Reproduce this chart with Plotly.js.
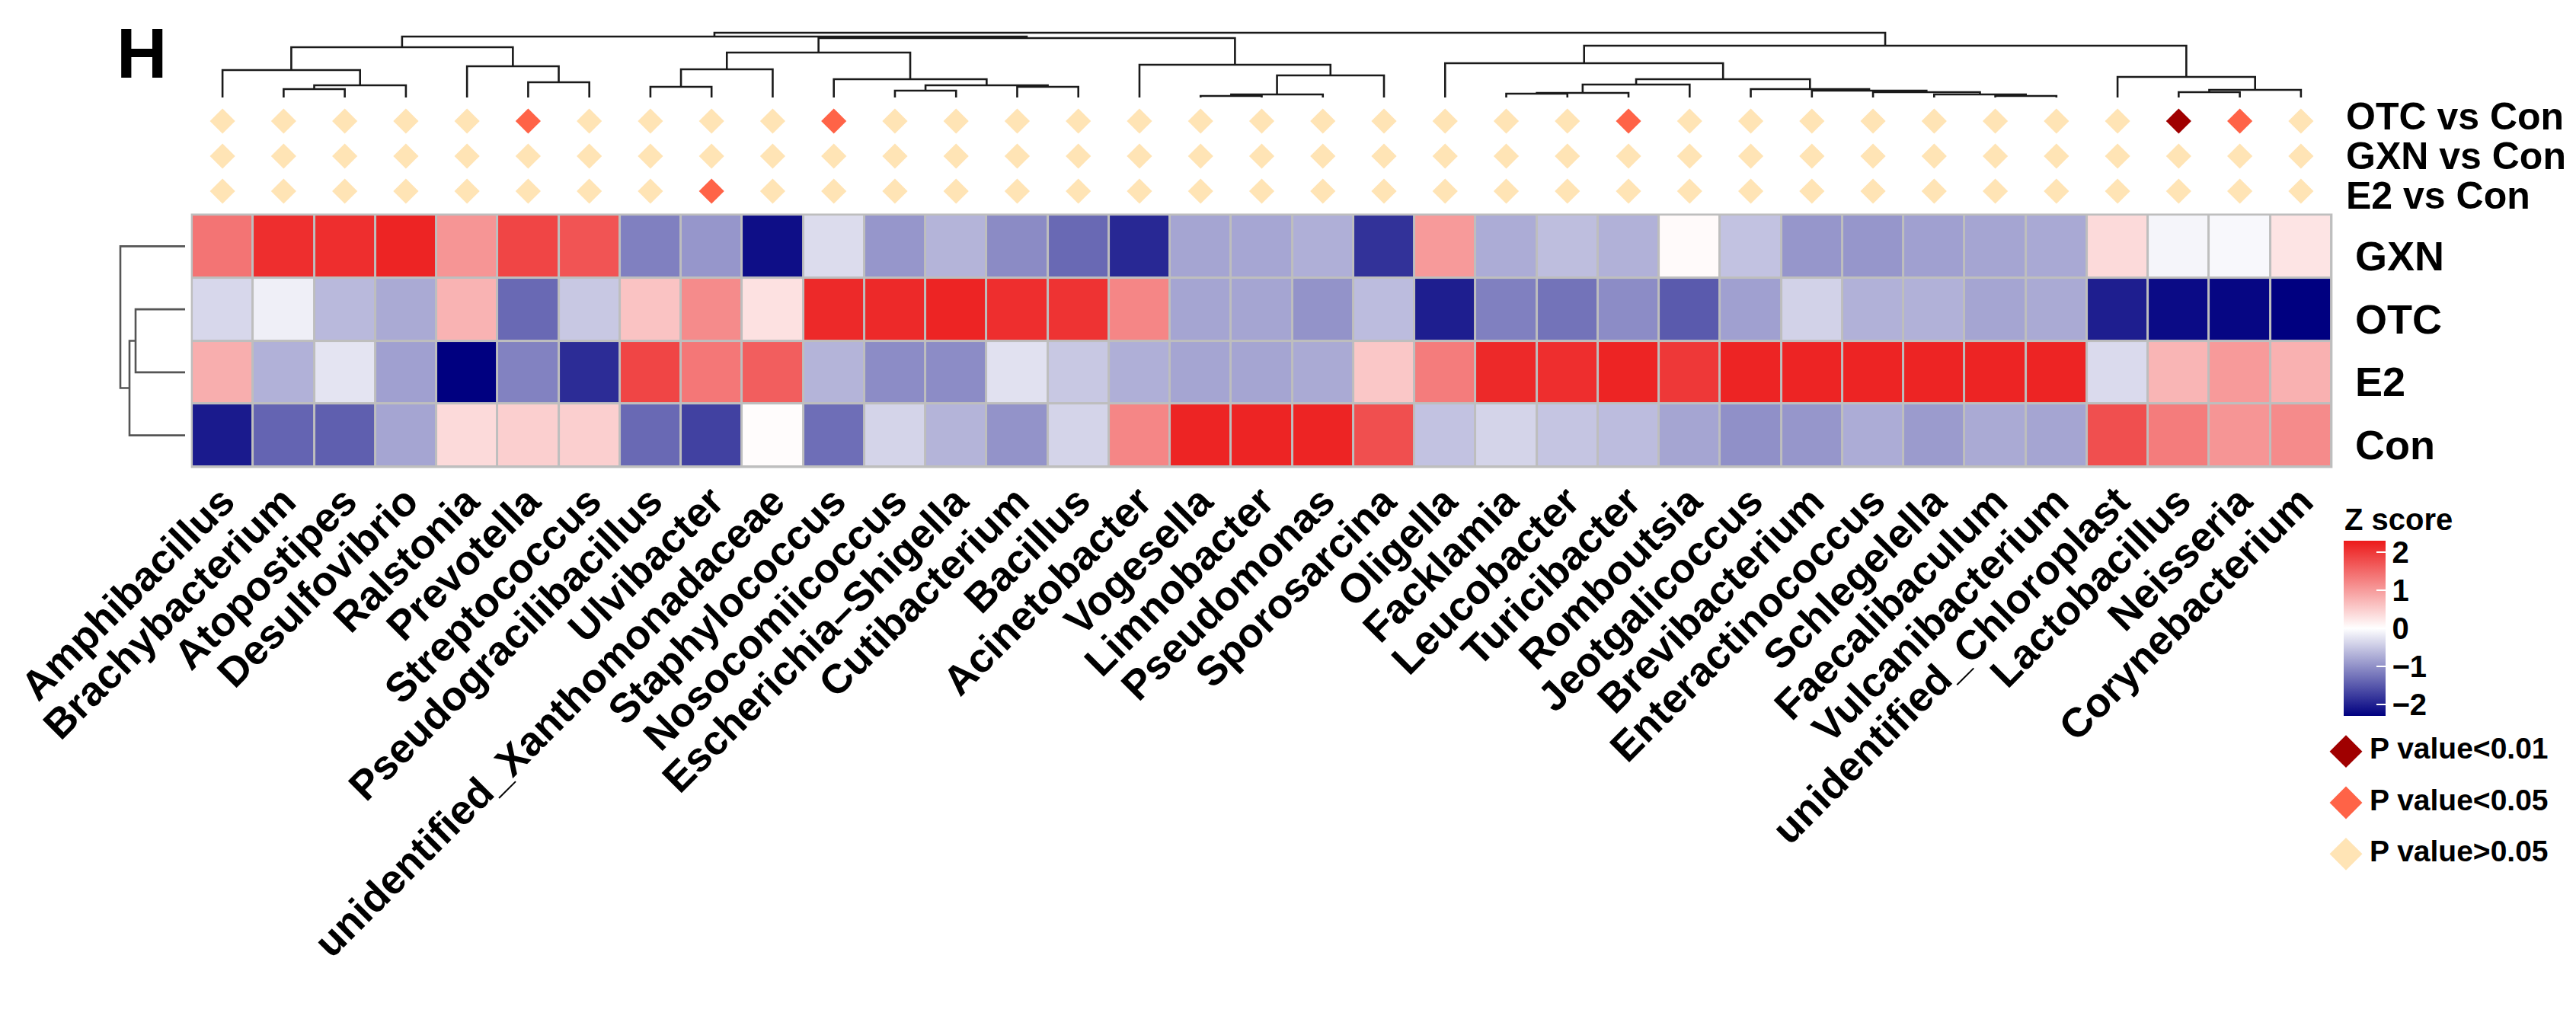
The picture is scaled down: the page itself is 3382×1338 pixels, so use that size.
<!DOCTYPE html>
<html><head><meta charset="utf-8">
<script src="https://cdn.plot.ly/plotly-3.0.1.min.js"></script>
<style>html,body{margin:0;padding:0;background:#fff;}#chart{width:3382px;height:1338px;}</style>
</head><body><div id="chart"></div>
<script>
// ---------------- data ----------------
const taxa = ['Amphibacillus','Brachybacterium','Atopostipes','Desulfovibrio','Ralstonia','Prevotella',
  'Streptococcus','Pseudogracilibacillus','Ulvibacter','unidentified_Xanthomonadaceae','Staphylococcus',
  'Nosocomiicoccus','Escherichia\u2013Shigella','Cutibacterium','Bacillus','Acinetobacter','Vogesella',
  'Limnobacter','Pseudomonas','Sporosarcina','Oligella','Facklamia','Leucobacter','Turicibacter',
  'Romboutsia','Jeotgalicoccus','Brevibacterium','Enteractinococcus','Schlegelella','Faecalibaculum',
  'Vulcanibacterium','unidentified_Chloroplast','Lactobacillus','Neisseria','Corynebacterium'];
const groups = ['GXN','OTC','E2','Con'];
const zGXN = [1.4,2.1,2.1,2.2,1.06,1.87,1.72,-1.15,-0.95,-2.17,-0.32,-0.95,-0.68,-1.05,-1.35,-1.94,-0.81,-0.8,-0.72,-1.85,1.01,-0.75,-0.59,-0.7,0.05,-0.55,-0.95,-0.95,-0.86,-0.81,-0.78,0.37,-0.09,-0.06,0.27];
const zOTC = [-0.36,-0.14,-0.63,-0.77,0.76,-1.35,-0.5,0.6,1.17,0.3,2.15,2.15,2.2,2.1,2.05,1.22,-0.81,-0.81,-0.97,-0.6,-2.03,-1.15,-1.26,-1.04,-1.49,-0.86,-0.41,-0.7,-0.7,-0.81,-0.77,-2.03,-2.2,-2.25,-2.3];
const zE2  = [0.81,-0.7,-0.24,-0.86,-2.3,-1.13,-1.9,1.87,1.37,1.62,-0.68,-1.04,-1.04,-0.27,-0.5,-0.72,-0.81,-0.81,-0.77,0.56,1.32,2.15,2.1,2.2,2.0,2.2,2.2,2.2,2.2,2.2,2.2,-0.33,0.74,1.01,0.78];
const zCon = [-2.07,-1.4,-1.44,-0.81,0.37,0.48,0.48,-1.35,-1.71,0.03,-1.31,-0.39,-0.68,-0.97,-0.39,1.22,2.2,2.2,2.2,1.77,-0.55,-0.39,-0.52,-0.6,-0.81,-1.0,-0.95,-0.75,-0.9,-0.77,-0.81,1.77,1.32,1.06,1.17];
const comparisons = ['OTC vs Con','GXN vs Con','E2 vs Con'];
// p-value class per taxon: 0 = P>0.05, 1 = P<0.05, 2 = P<0.01
const pOTC = [0,0,0,0,0,1,0,0,0,0,1,0,0,0,0,0,0,0,0,0,0,0,0,1,0,0,0,0,0,0,0,0,2,1,0];
const pGXN = [0,0,0,0,0,0,0,0,0,0,0,0,0,0,0,0,0,0,0,0,0,0,0,0,0,0,0,0,0,0,0,0,0,0,0];
const pE2  = [0,0,0,0,0,0,0,0,1,0,0,0,0,0,0,0,0,0,0,0,0,0,0,0,0,0,0,0,0,0,0,0,0,0,0];
const pLabels = ['P value&gt;0.05','P value&lt;0.05','P value&lt;0.01'];
// column dendrogram merges [childA, childB, height]; leaves 0..34, new nodes 35..
const colMerges = [[1,2,11],[35,3,16],[0,36,36],[5,6,20],[4,38,41],[37,39,66],[7,8,14],[41,9,37],
  [11,12,9],[13,14,14],[43,44,16],[10,45,24],[42,46,59],[16,17,2],[48,18,4],[49,19,29],[15,50,43],
  [47,51,78],[40,52,80],[21,22,5],[54,23,6],[55,24,17],[29,30,2],[28,57,4],[27,58,7],[26,59,9],
  [25,60,11],[56,61,24],[20,62,45],[32,33,7],[64,34,10],[31,65,27],[63,66,68],[53,67,85]];
// row dendrogram merges; leaves 0..3 (GXN, OTC, E2, Con)
const rowMerges = [[1,2,65],[4,3,73],[0,5,85]];
const zTickVals = [-2,-1,0,1,2];
const zTickText = ['\u22122','\u22121','0','1','2'];

// ---------------- helpers ----------------
const W = 3382, H = 1338;
const fx = p => p / W, fy = p => 1 - p / H;
const FONT = 'Liberation Sans, Arial, Helvetica, sans-serif';
const pColors = ['#FFE4B5', '#FF6347', '#A00000'];
const ZMIN = -2.3, ZMAX = 2.3;

function dendro(merges, n) {
  const pos = [], hgt = [];
  for (let i = 0; i < n; i++) { pos.push(i); hgt.push(0); }
  const a = [], b = [];
  merges.forEach(([c1, c2, h]) => {
    a.push(pos[c1], pos[c1], pos[c2], pos[c2], null);
    b.push(hgt[c1], h, h, hgt[c2], null);
    pos.push((pos[c1] + pos[c2]) / 2); hgt.push(h);
  });
  return {a, b};
}

const idx = taxa.map((_, i) => i);
const e = 0.02;
// heatmap geometry (pixels)
const hmL = 252, hmR = 3061, hmT = 282, hmB = 613;
const cu = (hmR - hmL) / taxa.length, ru = (hmB - hmT) / groups.length;
// colour bar geometry (pixels)
const cbL = 3077, cbW = 55, cbC = 825, cbLen = 230;

const traces = [];
traces.push({
  type: 'heatmap', x: idx, y: groups.map((_, i) => i), z: [zGXN, zOTC, zE2, zCon],
  xaxis: 'x', yaxis: 'y', zmin: ZMIN, zmax: ZMAX, xgap: 3, ygap: 3,
  colorscale: [[0, '#000080'], [0.5, '#FFFFFF'], [1, '#EC1A1A']],
  hoverinfo: 'skip',
  colorbar: {
    x: fx(cbL), xanchor: 'left', xpad: 0, y: fy(cbC), yanchor: 'middle', ypad: 0,
    len: cbLen, lenmode: 'pixels', thickness: cbW, thicknessmode: 'pixels', outlinewidth: 0,
    tickvals: zTickVals, ticktext: zTickText, ticks: 'inside', ticklen: 12, tickwidth: 2,
    tickcolor: '#FFFFFF', tickfont: {family: FONT, size: 40, color: '#000', weight: 'bold'}
  }
});

// significance diamonds
const pRows = [pOTC, pGXN, pE2];
const dx = [], dy = [], dc = [];
pRows.forEach((row, r) => row.forEach((v, i) => { dx.push(i); dy.push(r); dc.push(pColors[v]); }));
traces.push({type: 'scatter', mode: 'markers', x: dx, y: dy, xaxis: 'x', yaxis: 'y2',
  marker: {symbol: 'diamond', size: 25.5, color: dc, line: {width: 0}}, hoverinfo: 'skip', cliponaxis: false});

// column dendrogram
const cd = dendro(colMerges, taxa.length);
traces.push({type: 'scatter', mode: 'lines', x: cd.a, y: cd.b, xaxis: 'x', yaxis: 'y3',
  line: {color: '#1a1a1a', width: 2.6}, hoverinfo: 'skip'});
// row dendrogram
const rd = dendro(rowMerges, groups.length);
traces.push({type: 'scatter', mode: 'lines', x: rd.b, y: rd.a, xaxis: 'x4', yaxis: 'y',
  line: {color: '#555555', width: 2.6}, hoverinfo: 'skip'});

// p-value legend
const legOrder = [2, 1, 0];
traces.push({type: 'scatter', mode: 'markers', x: legOrder.map(() => 20), y: legOrder.map((_, i) => i),
  xaxis: 'x5', yaxis: 'y5', marker: {symbol: 'diamond', size: 33, color: legOrder.map(k => pColors[k])},
  hoverinfo: 'skip', cliponaxis: false});
traces.push({type: 'scatter', mode: 'text', x: legOrder.map(() => 51), y: legOrder.map((_, i) => i),
  text: legOrder.map(k => pLabels[k]), textposition: 'middle right',
  textfont: {family: FONT, size: 39, color: '#000', weight: 'bold'},
  xaxis: 'x5', yaxis: 'y5', hoverinfo: 'skip', cliponaxis: false});

const hid = {visible: false, showgrid: false, zeroline: false, fixedrange: true};
const annotations = [];
annotations.push({text: 'H', xref: 'paper', yref: 'paper', x: fx(186), y: fy(70), xanchor: 'center', yanchor: 'middle',
  showarrow: false, font: {family: FONT, size: 92, color: '#000', weight: 'bold'}});
[153, 205, 257].forEach((py, i) => annotations.push({text: comparisons[i], xref: 'paper', yref: 'paper',
  x: fx(3078), y: fy(py), xanchor: 'left', yanchor: 'middle', showarrow: false,
  font: {family: FONT, size: 50, color: '#000', weight: 'bold'}}));
groups.forEach((g, i) => annotations.push({text: g, xref: 'paper', yref: 'y', x: fx(3090), y: i, yshift: -12.5,
  xanchor: 'left', yanchor: 'middle', showarrow: false, font: {family: FONT, size: 54, color: '#000', weight: 'bold'}}));
annotations.push({text: 'Z score', xref: 'paper', yref: 'paper', x: fx(3076), y: fy(682), xanchor: 'left', yanchor: 'middle',
  showarrow: false, font: {family: FONT, size: 40, color: '#000', weight: 'bold'}});

// white tick dashes on the left edge of the colour bar (mirroring the inside ticks)
const shapes = [{type: 'rect', xref: 'x', yref: 'y', layer: 'below', x0: -0.5 - e, x1: taxa.length - 0.5 + e,
  y0: -0.5 - e, y1: groups.length - 0.5 + e, fillcolor: '#BEBEBE', line: {width: 0}}];
zTickVals.forEach(v => {
  const py = cbC - (v - (ZMIN + ZMAX) / 2) * cbLen / (ZMAX - ZMIN);
  shapes.push({type: 'line', xref: 'paper', yref: 'paper', x0: fx(cbL), x1: fx(cbL + 12), y0: fy(py), y1: fy(py),
    line: {color: '#FFFFFF', width: 2}});
});

const layout = {
  width: W, height: H, margin: {l: 0, r: 0, t: 0, b: 0, pad: 0},
  paper_bgcolor: '#FFFFFF', plot_bgcolor: 'rgba(0,0,0,0)', showlegend: false,
  xaxis: {domain: [fx(hmL - e * cu), fx(hmR + e * cu)], range: [-0.5 - e, taxa.length - 0.5 + e],
    tickmode: 'array', tickvals: idx, ticktext: taxa, tickangle: -45, ticks: '', showline: false,
    showgrid: false, zeroline: false, automargin: false, anchor: 'y', fixedrange: true,
    tickfont: {family: FONT, size: 54, color: '#000', weight: 'bold'}},
  yaxis: Object.assign({}, hid, {domain: [fy(hmB + e * ru), fy(hmT - e * ru)], range: [groups.length - 0.5 + e, -0.5 - e], anchor: 'x'}),
  yaxis2: Object.assign({}, hid, {domain: [fy(274), fy(136)], range: [2.5, -0.5], anchor: 'x'}),
  yaxis3: Object.assign({}, hid, {domain: [fy(130), fy(41)], range: [-2, 87], anchor: 'x'}),
  xaxis4: Object.assign({}, hid, {domain: [fx(156), fx(245)], range: [87, -2], anchor: 'y'}),
  xaxis5: Object.assign({}, hid, {domain: [fx(3060), fx(3380)], range: [0, 320], anchor: 'y5'}),
  yaxis5: Object.assign({}, hid, {domain: [fy(1155), fy(953)], range: [2.5, -0.5], anchor: 'x5'}),
  shapes: shapes,
  annotations: annotations
};
Plotly.newPlot('chart', traces, layout, {displayModeBar: false, staticPlot: true});
</script></body></html>
